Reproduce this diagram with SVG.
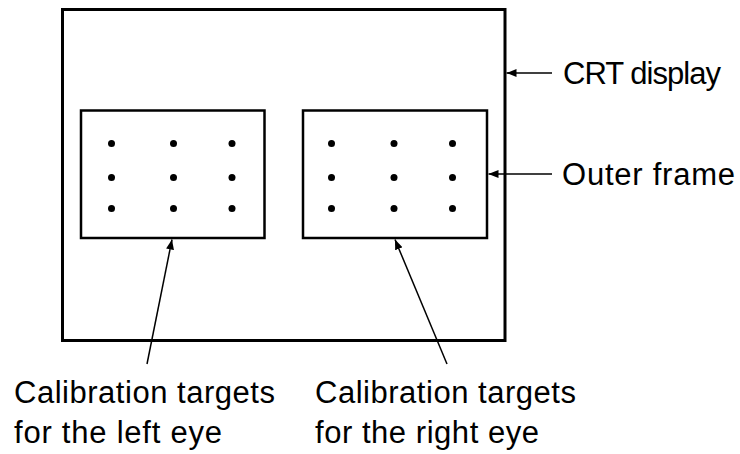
<svg xmlns="http://www.w3.org/2000/svg" width="740" height="454" viewBox="0 0 740 454">
  <style>
    .frame { fill: #ffffff; stroke: #000000; stroke-width: 3; }
    .inner { fill: #ffffff; stroke: #000000; stroke-width: 2.5; }
    .dot { fill: #000000; }
    .conn { stroke: #000000; stroke-width: 1.5; fill: none; marker-end: url(#arrow); }
    .label { font-family: "Liberation Sans", Arial, sans-serif; font-size: 31px; fill: #000000; }
  </style>
  <defs>
    <marker id="arrow" viewBox="0 0 10 8" refX="10" refY="4" markerWidth="10" markerHeight="8" markerUnits="userSpaceOnUse" orient="auto">
      <path d="M0,0 L10,4 L0,8 Z" fill="#000000"/>
    </marker>
  </defs>

  <g id="crt-display">
    <rect class="frame" x="62.5" y="9.5" width="442.5" height="331"/>
  </g>

  <g id="left-targets">
    <rect class="inner" x="81" y="110.5" width="183.5" height="127.5"/>
    <circle class="dot" cx="111.5" cy="143.5" r="3.5"/>
    <circle class="dot" cx="173.5" cy="143.5" r="3.5"/>
    <circle class="dot" cx="232" cy="143.5" r="3.5"/>
    <circle class="dot" cx="111.5" cy="177.5" r="3.5"/>
    <circle class="dot" cx="173.5" cy="177.5" r="3.5"/>
    <circle class="dot" cx="232" cy="177.5" r="3.5"/>
    <circle class="dot" cx="111.5" cy="208.5" r="3.5"/>
    <circle class="dot" cx="173.5" cy="208.5" r="3.5"/>
    <circle class="dot" cx="232" cy="208.5" r="3.5"/>
  </g>

  <g id="right-targets">
    <rect class="inner" x="303" y="110.5" width="184" height="127.5"/>
    <circle class="dot" cx="331.5" cy="143.5" r="3.5"/>
    <circle class="dot" cx="394" cy="143.5" r="3.5"/>
    <circle class="dot" cx="452.5" cy="143.5" r="3.5"/>
    <circle class="dot" cx="331.5" cy="177.5" r="3.5"/>
    <circle class="dot" cx="394" cy="177.5" r="3.5"/>
    <circle class="dot" cx="452.5" cy="177.5" r="3.5"/>
    <circle class="dot" cx="331.5" cy="208.5" r="3.5"/>
    <circle class="dot" cx="394" cy="208.5" r="3.5"/>
    <circle class="dot" cx="452.5" cy="208.5" r="3.5"/>
  </g>

  <g id="connectors">
    <line class="conn" x1="552" y1="73" x2="506.5" y2="73"/>
    <line class="conn" x1="552" y1="174" x2="488.5" y2="174"/>
    <line class="conn" x1="147" y1="364" x2="172" y2="239.5"/>
    <line class="conn" x1="447" y1="364" x2="395" y2="239.5"/>
  </g>

  <g id="labels">
    <text class="label" x="563" y="84" textLength="158">CRT display</text>
    <text class="label" x="562" y="185" textLength="173">Outer frame</text>
    <text class="label" x="14" y="403" textLength="261">Calibration targets</text>
    <text class="label" x="14" y="443" textLength="208">for the left eye</text>
    <text class="label" x="315" y="403" textLength="261">Calibration targets</text>
    <text class="label" x="315" y="443" textLength="224">for the right eye</text>
  </g>
</svg>
